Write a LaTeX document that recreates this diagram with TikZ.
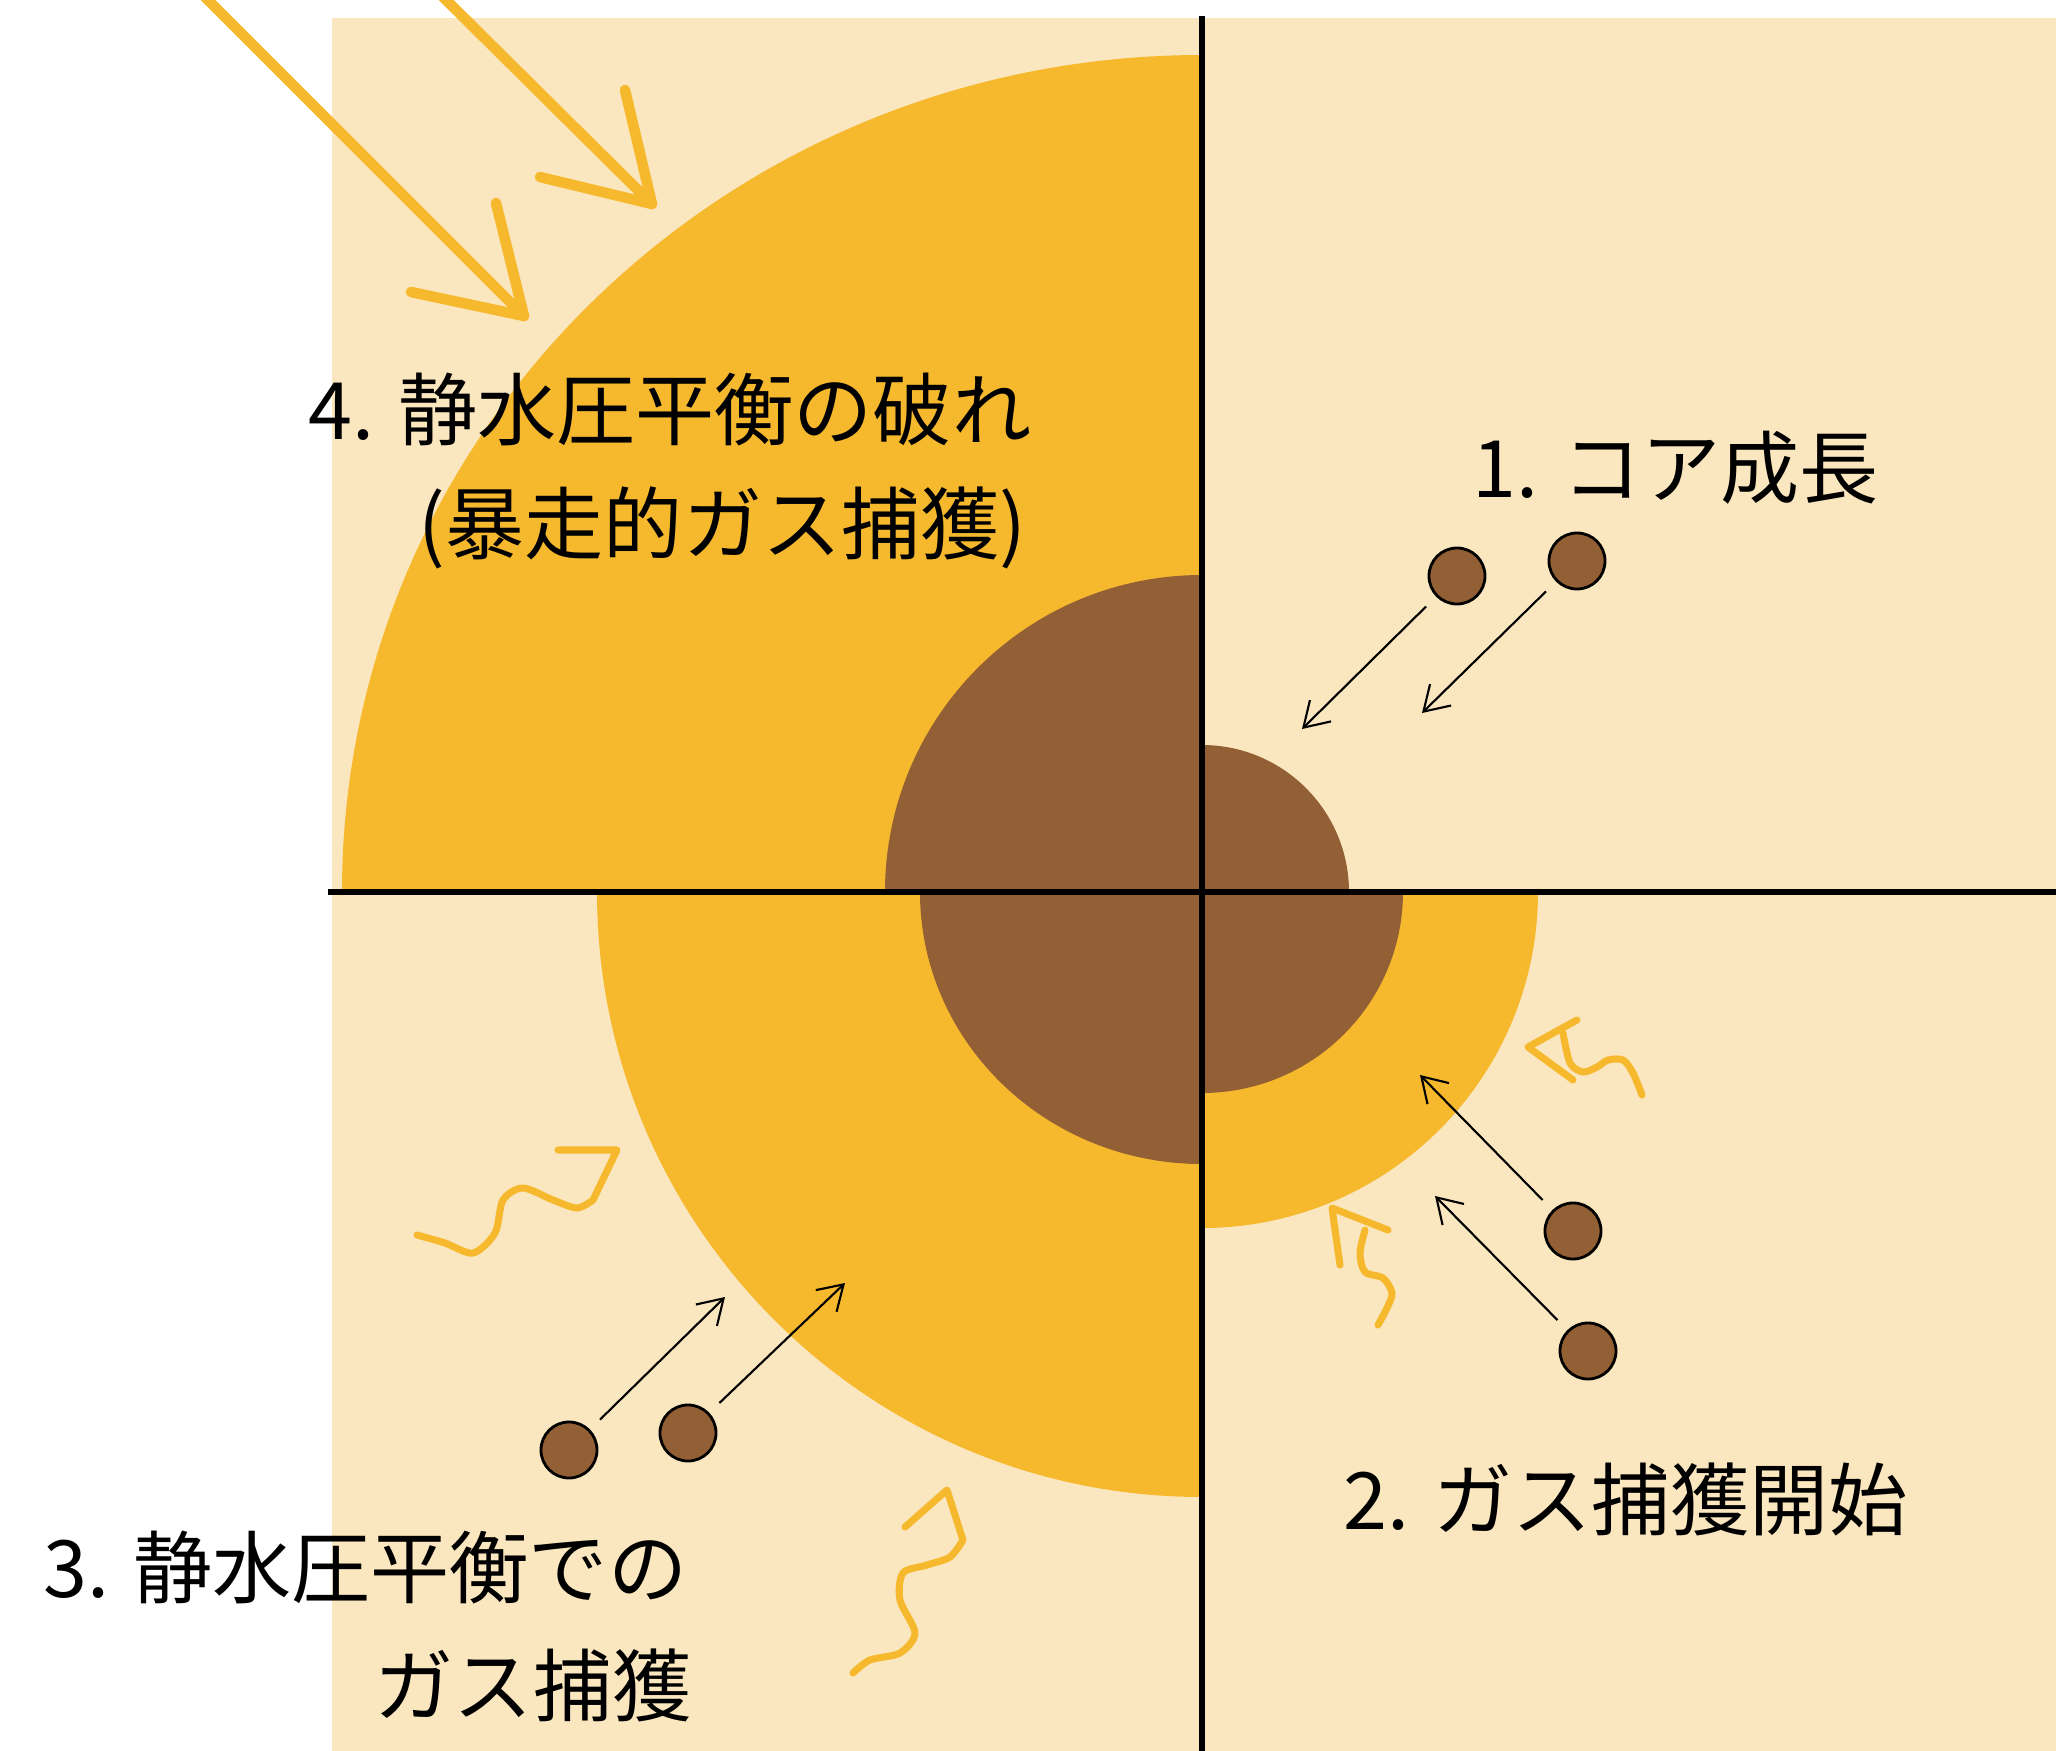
\documentclass[tikz,border=0pt]{standalone}
\usepackage{fontspec}
\setmainfont{Noto Sans CJK JP}
\usetikzlibrary{arrows.meta}

\definecolor{dust}{RGB}{251,231,191}
\definecolor{gas}{RGB}{246,184,45}
\definecolor{rock}{RGB}{147,95,52}

\tikzset{
  stage/.style={font=\fontsize{22.5pt}{27pt}\selectfont, inner sep=0pt},
  pebble/.style={circle, fill=rock, draw=black, line width=0.8pt, minimum size=0.56cm, inner sep=0pt},
  flow/.style={line width=0.6pt, -{Straight Barb[length=2.4mm,width=3mm]}, shorten <=0.14cm},
  heat/.style={gas, line width=2pt, line cap=round, line join=round},
  infall/.style={gas, line width=3pt, line cap=round, line join=round},
}

\begin{document}
\begin{tikzpicture}[x=0.01cm, y=-0.01cm]
  \useasboundingbox (0,0) rectangle (2056,1751);
  \clip (0,0) rectangle (2056,1751);

  % Hintergrund (protoplanetary disk)
  \fill[dust] (332,18) rectangle (2056,1751);
  \coordinate (ctr) at (1202,892);

  % 4: runaway gas accretion
  \fill[gas] (ctr) -- ++(-860,0) arc[start angle=180, end angle=270, x radius=860, y radius=837] -- cycle;
  \fill[rock] (ctr) -- ++(-317,0) arc[start angle=180, end angle=270, radius=317] -- cycle;
  % 3: hydrostatic envelope
  \fill[gas] (ctr) -- ++(0,605) arc[start angle=90, end angle=180, radius=605] -- cycle;
  \fill[rock] (ctr) -- ++(0,272) arc[start angle=90, end angle=180, x radius=282, y radius=272] -- cycle;
  % 2: first envelope
  \fill[gas] (ctr) -- ++(336,0) arc[start angle=0, end angle=90, radius=336] -- cycle;
  \fill[rock] (ctr) -- ++(201,0) arc[start angle=0, end angle=90, radius=201] -- cycle;
  % 1: bare core
  \fill[rock] (ctr) -- ++(0,-147) arc[start angle=270, end angle=360, radius=147] -- cycle;

  % Quadranten
  \draw[line width=1.5pt] (1202,16) -- (1202,1751);
  \draw[line width=1.5pt] (328,892) -- (2056,892);

  % Planetesimale
  \node[pebble] (a1) at (1457,576) {};
  \node[pebble] (a2) at (1577,561) {};
  \node[pebble] (b1) at (1573,1231) {};
  \node[pebble] (b2) at (1588,1351) {};
  \node[pebble] (c1) at (569,1450) {};
  \node[pebble] (c2) at (688,1433) {};
  \coordinate (a1t) at (1302,729);
  \coordinate (a2t) at (1422,713);
  \coordinate (b1t) at (1420,1075);
  \coordinate (b2t) at (1435,1196);
  \coordinate (c1t) at (725,1297);
  \coordinate (c2t) at (845,1283);
  \foreach \p in {a1,a2,b1,b2,c1,c2} {
    \draw[flow] (\p) -- (\p t);
  }

  % Gaszufluss
  \draw[infall] (195,-13) -- (524,316);
  \draw[infall] (496,203) -- (524,316) -- (411,292);
  \draw[infall] (433,-13) -- (652,204);
  \draw[infall] (625,90) -- (652,204) -- (540,177);

  % Waerme
  \draw[heat] plot[smooth] coordinates {(417,1235) (445,1243) (473,1253) (495,1233) (503,1200) (523,1188) (553,1200) (577,1208) (593,1200)} -- (617,1150) -- (558,1150);
  \draw[heat] plot[smooth] coordinates {(853,1673) (870,1660) (900,1653) (915,1633) (900,1600) (903,1573) (927,1565) (950,1557) (963,1540)} -- (947,1490) -- (905,1527);
  \draw[heat] plot[smooth] coordinates {(1563,1033) (1570,1063) (1583,1072) (1597,1067) (1608,1060) (1623,1060) (1633,1073) (1642,1095)};
  \draw[heat] (1577,1020) -- (1528,1047) -- (1573,1080);
  \draw[heat] plot[smooth] coordinates {(1365,1230) (1360,1253) (1365,1272) (1383,1278) (1392,1293) (1387,1308) (1378,1325)};
  \draw[heat] (1388,1230) -- (1332,1208) -- (1340,1265);

  % Beschriftung
  \node[stage, anchor=east] (s4a) at (1032,409) {4. 静水圧平衡の破れ};
  \node[stage, anchor=east] (s4b) at (1027,528) {(暴走的ガス捕獲)};
  \node[stage, anchor=west] (s1) at (1472,468) {1. コア成長};
  \node[stage, anchor=west] (s2) at (1343,1499) {2. ガス捕獲開始};
  \node[stage, anchor=east] (s3a) at (688,1567) {3. 静水圧平衡での};
  \node[stage, anchor=east] (s3b) at (692,1685) {ガス捕獲};
\end{tikzpicture}
\end{document}
